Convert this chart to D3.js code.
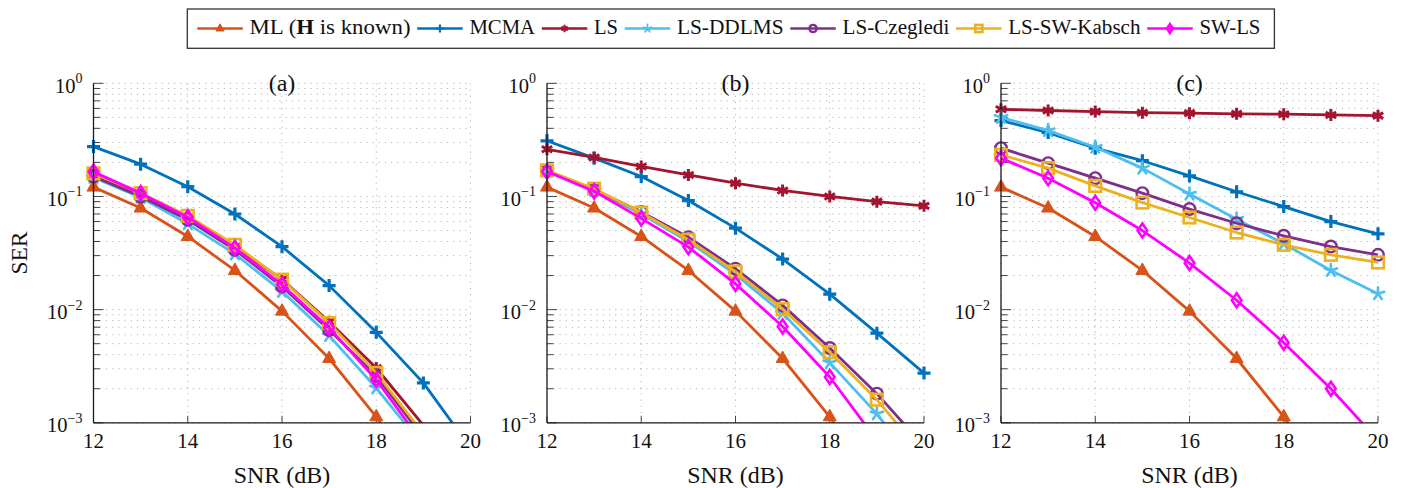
<!DOCTYPE html>
<html><head><meta charset="utf-8">
<script src="https://cdn.jsdelivr.net/npm/d3@7"></script>
<style>
html,body{margin:0;padding:0;background:#fff;}
</style></head>
<body>
<svg id="chart" width="1405" height="488"></svg>
<script>
// ---------- data ----------
const snr = [12, 13, 14, 15, 16, 17, 18, 19, 20];
const seriesNames = ["ML", "MCMA", "LS", "LS-DDLMS", "LS-Czegledi", "LS-SW-Kabsch", "SW-LS"];
const seriesColors = ["#D95319", "#0072BD", "#A2142F", "#4DBEEE", "#7E2F8E", "#EDB120", "#FF00FF"];
const seriesMarkers = ["triangle", "plus", "asterisk", "star", "circle", "square", "diamond"];
const panelTitles = ["(a)", "(b)", "(c)"];
const yTickValues = [1e-3, 1e-2, 1e-1, 1];
const yTickExponents = ["\u22123", "\u22122", "\u22121", "0"];
const xTickValues = [12, 14, 16, 18, 20];

const ML = [0.121, 0.079, 0.0443, 0.0222, 0.0097, 0.0037, 0.00113, 0.00028, 0.00006];

const MCMA_a     = [0.276, 0.193, 0.122, 0.070, 0.036, 0.0163, 0.0063, 0.00225, 0.0006];
const LS_a       = [0.155, 0.103, 0.064, 0.036, 0.0185, 0.0078, 0.00305, 0.00095, 0.00025];
const DDLMS_a    = [0.147, 0.098, 0.0573, 0.0311, 0.0145, 0.0059, 0.00203, 0.00062, 0.00015];
const Czegledi_a = [0.150, 0.100, 0.0622, 0.0338, 0.0160, 0.0066, 0.0026, 0.00074, 0.00018];
const Kabsch_a   = [0.160, 0.107, 0.0674, 0.0374, 0.0184, 0.0076, 0.00276, 0.0008, 0.0002];
const SWLS_a     = [0.165, 0.107, 0.0656, 0.0350, 0.0166, 0.0069, 0.0024, 0.00065, 0.00016];

const MCMA_b     = [0.310, 0.218, 0.150, 0.092, 0.0525, 0.028, 0.0137, 0.0062, 0.00275];
const LS_b       = [0.261, 0.221, 0.184, 0.155, 0.131, 0.113, 0.100, 0.090, 0.0826];
const DDLMS_b    = [0.168, 0.113, 0.070, 0.040, 0.0205, 0.0093, 0.0034, 0.0012, 0.00035];
const Czegledi_b = [0.168, 0.115, 0.073, 0.0437, 0.023, 0.0109, 0.00458, 0.00181, 0.00062];
const Kabsch_b   = [0.170, 0.117, 0.072, 0.0414, 0.0217, 0.0101, 0.0042, 0.0016, 0.00051];
const SWLS_b     = [0.166, 0.111, 0.064, 0.0357, 0.0169, 0.0071, 0.00254, 0.0007, 0.00016];

const MCMA_c     = [0.468, 0.367, 0.267, 0.207, 0.152, 0.110, 0.0814, 0.060, 0.0468];
const LS_c       = [0.589, 0.575, 0.562, 0.550, 0.545, 0.537, 0.533, 0.525, 0.518];
const DDLMS_c    = [0.500, 0.382, 0.272, 0.178, 0.105, 0.063, 0.0382, 0.0222, 0.0138];
const Czegledi_c = [0.267, 0.197, 0.145, 0.107, 0.0773, 0.058, 0.0449, 0.0361, 0.0305];
const Kabsch_c   = [0.233, 0.178, 0.124, 0.0883, 0.0652, 0.048, 0.0374, 0.0305, 0.0261];
const SWLS_c     = [0.218, 0.145, 0.088, 0.050, 0.0258, 0.0121, 0.0051, 0.0020, 0.0007];

const panels = [
  [ML, MCMA_a, LS_a, DDLMS_a, Czegledi_a, Kabsch_a, SWLS_a],
  [ML, MCMA_b, LS_b, DDLMS_b, Czegledi_b, Kabsch_b, SWLS_b],
  [ML, MCMA_c, LS_c, DDLMS_c, Czegledi_c, Kabsch_c, SWLS_c]
];

// ---------- layout ----------
const svg = d3.select("#chart");
const panelLefts = [93.5, 547, 1001];
const plotW = 377, plotTop = 83.3, plotBottom = 422.8;
const gridColor = "#b5b5b5";
const legendTextWidths = [161, 65.7, 24, 106.7, 106.8, 132.3, 61];
const FONT = "'Liberation Serif', 'Times New Roman', Tinos, 'DejaVu Serif', serif";

function drawMarker(g, type, color, s) {
  s = s || 1;
  if (type === "triangle") {
    g.append("path").attr("d", `M0,${-7.5*s}L${6.5*s},${4*s}L${-6.5*s},${4*s}Z`).attr("fill", color).attr("stroke", color).attr("stroke-width", 1);
  } else if (type === "plus") {
    g.append("path").attr("d", `M${-6.5*s},0H${6.5*s}M0,${-6.5*s}V${6.5*s}`).attr("stroke", color).attr("stroke-width", 3.2*Math.max(s,0.7)).attr("fill", "none");
  } else if (type === "asterisk") {
    let d = "";
    [90, 30, 150].forEach(a => {
      const r = 6*s, c = Math.cos(a*Math.PI/180)*r, si = Math.sin(a*Math.PI/180)*r;
      d += `M${-c},${-si}L${c},${si}`;
    });
    g.append("path").attr("d", d).attr("stroke", color).attr("stroke-width", 3*Math.max(s,0.7)).attr("fill", "none");
  } else if (type === "star") {
    let d = "";
    for (let i = 0; i < 5; i++) {
      const a = (-90 + i*72)*Math.PI/180, r = 6.5*s;
      d += `M0,0L${Math.cos(a)*r},${Math.sin(a)*r}`;
    }
    g.append("path").attr("d", d).attr("stroke", color).attr("stroke-width", 2.6*Math.max(s,0.7)).attr("fill", "none").attr("stroke-linecap", "round");
  } else if (type === "circle") {
    g.append("circle").attr("r", 5.8*s).attr("fill", "none").attr("stroke", color).attr("stroke-width", 2.4);
  } else if (type === "square") {
    g.append("rect").attr("x", -5.8*s).attr("y", -5.8*s).attr("width", 11.6*s).attr("height", 11.6*s).attr("fill", "none").attr("stroke", color).attr("stroke-width", 2.6);
  } else if (type === "diamond") {
    g.append("path").attr("d", `M0,${-7*s}L${4.8*s},0L0,${7*s}L${-4.8*s},0Z`).attr("fill", "none").attr("stroke", color).attr("stroke-width", 2.6);
  }
}

function addText(parent) {
  return parent.append("text").style("font-family", FONT, "important").attr("fill", "#111");
}

const yMinor = [];
for (let k = -3; k < 0; k++) for (let m = 2; m <= 9; m++) yMinor.push(m * Math.pow(10, k));

panels.forEach((series, pi) => {
  const left = panelLefts[pi];
  const x = d3.scaleLinear().domain([12, 20]).range([left, left + plotW]);
  const y = d3.scaleLog().domain([1e-3, 1]).range([plotBottom, plotTop]);
  const g = svg.append("g");

  const grid = g.append("g").attr("stroke", gridColor).attr("stroke-width", 1).attr("stroke-dasharray", "1.2,5");
  yMinor.concat(yTickValues).forEach(v => {
    grid.append("line").attr("x1", left).attr("x2", left + plotW).attr("y1", y(v)).attr("y2", y(v));
  });
  xTickValues.forEach(v => {
    grid.append("line").attr("x1", x(v)).attr("x2", x(v)).attr("y1", plotTop).attr("y2", plotBottom);
  });

  const ticks = g.append("g").attr("stroke", "#444").attr("stroke-width", 1);
  yMinor.forEach(v => ticks.append("line").attr("x1", left).attr("x2", left + 6.5).attr("y1", y(v)).attr("y2", y(v)));
  yTickValues.forEach(v => ticks.append("line").attr("x1", left).attr("x2", left + 10).attr("y1", y(v)).attr("y2", y(v)));
  xTickValues.forEach(v => ticks.append("line").attr("x1", x(v)).attr("x2", x(v)).attr("y1", plotBottom).attr("y2", plotBottom - 7));

  const cid = "clip" + pi;
  svg.append("clipPath").attr("id", cid).append("rect")
    .attr("x", left).attr("y", plotTop - 1).attr("width", plotW + 1).attr("height", plotBottom - plotTop + 1);

  const line = d3.line().x((d, i) => x(snr[i])).y(d => y(d));
  const dataG = g.append("g");
  series.forEach((vals, si) => {
    const sg = dataG.append("g");
    sg.append("path").attr("d", line(vals)).attr("fill", "none")
      .attr("stroke", seriesColors[si]).attr("stroke-width", 2.8)
      .attr("stroke-linejoin", "round").attr("clip-path", `url(#${cid})`);
    vals.forEach((v, i) => {
      if (v >= 1e-3 && v <= 1) {
        const mg = sg.append("g").attr("transform", `translate(${x(snr[i])},${y(v)})`);
        drawMarker(mg, seriesMarkers[si], seriesColors[si], 1);
      }
    });
  });

  g.append("line").attr("x1", left).attr("x2", left).attr("y1", plotTop).attr("y2", plotBottom).attr("stroke", "#1a1a1a").attr("stroke-width", 1.3);
  g.append("line").attr("x1", left).attr("x2", left + plotW).attr("y1", plotBottom).attr("y2", plotBottom).attr("stroke", "#1a1a1a").attr("stroke-width", 1.3);

  yTickValues.forEach((v, i) => {
    const t = addText(g).attr("x", left - 11).attr("y", y(v) + 9.5)
      .attr("text-anchor", "end").attr("font-size", 20.5);
    t.append("tspan").text("10");
    t.append("tspan").attr("dy", -9.5).attr("font-size", 14).text(yTickExponents[i]);
  });
  xTickValues.forEach(v => {
    addText(g).attr("x", x(v)).attr("y", plotBottom + 25.5).attr("text-anchor", "middle")
      .attr("font-size", 21).text(v);
  });
  addText(g).attr("x", left + plotW / 2).attr("y", 482.5).attr("text-anchor", "middle")
    .attr("font-size", 23.5).attr("textLength", 96.5).attr("lengthAdjust", "spacingAndGlyphs").text("SNR (dB)");
  addText(g).attr("x", left + plotW / 2).attr("y", 90.5).attr("text-anchor", "middle")
    .attr("font-size", 24).text(panelTitles[pi]);
});

addText(svg).attr("transform", `translate(26.5,${(plotTop + plotBottom) / 2}) rotate(-90)`)
  .attr("text-anchor", "middle").attr("font-size", 23.5).text("SER");

// ---------- legend ----------
const leg = svg.append("g");
const legBox = leg.append("rect").attr("y", 9).attr("height", 39.3).attr("fill", "#fff")
  .attr("stroke", "#333").attr("stroke-width", 1.3);
let cx = 197.3;
seriesNames.forEach((name, i) => {
  leg.append("line").attr("x1", cx).attr("x2", cx + 45.5).attr("y1", 28.5).attr("y2", 28.5)
    .attr("stroke", seriesColors[i]).attr("stroke-width", 2.7);
  const mg = leg.append("g").attr("transform", `translate(${cx + 22.75},28.5)`);
  drawMarker(mg, seriesMarkers[i], seriesColors[i], 0.62);
  cx += 45.5 + 6.7;
  const t = addText(leg).attr("x", cx).attr("y", 34.3).attr("font-size", 20.5)
    .attr("textLength", legendTextWidths[i]).attr("lengthAdjust", "spacingAndGlyphs");
  if (i === 0) {
    t.append("tspan").text("ML (");
    t.append("tspan").attr("font-weight", "bold").text("H");
    t.append("tspan").text(" is known)");
  } else {
    t.text(name);
  }
  cx += legendTextWidths[i] + 6.7;
});
legBox.attr("x", 187.3).attr("width", cx - 6.7 + 14 - 187.3);
</script>
</body></html>
